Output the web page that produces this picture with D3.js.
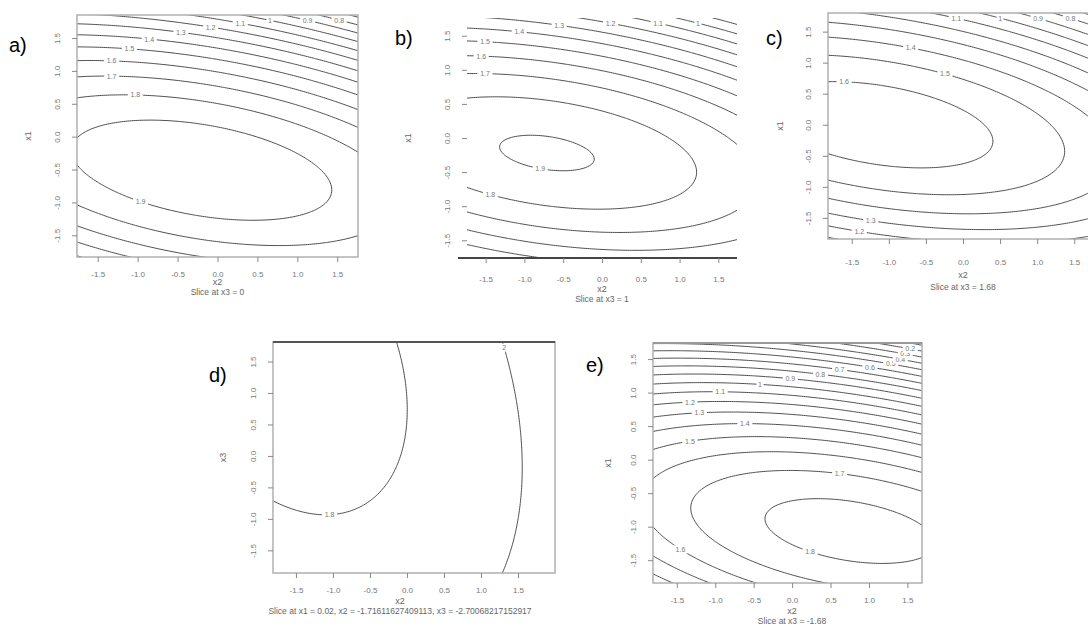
<!DOCTYPE html>
<html><head><meta charset="utf-8">
<script src="https://cdn.jsdelivr.net/npm/d3@7"></script>
<style>body{margin:0;background:#fff}text{font-family:"Liberation Sans",Arial,sans-serif}</style>
</head><body>
<svg id="c" width="1088" height="639"></svg>
<script>
// ---- shared ticks ----
const tickValues = [-1.5, -1.0, -0.5, 0.0, 0.5, 1.0, 1.5];
const tickLabels = ["-1.5", "-1.0", "-0.5", "0.0", "0.5", "1.0", "1.5"];

// ---- panel a (x2 horizontal, x1 vertical), slice at x3 = 0 ----
const aCenter = [-0.2, -0.51];
const aCoef = [0.218, 1.0, 0.368];          // x2^2, x1^2, x2*x1
const aLevels = [0.49, 1.11, 1.73, 2.35, 2.97, 3.59, 4.21, 4.83, 5.45, 6.07, 6.69, 7.31, 7.93];
const aLabels = ["1.9", "1.8", "1.7", "1.6", "1.5", "1.4", "1.3", "1.2", "1.1", "1", "0.9", "0.8", "0.7"];

// ---- panel b, slice at x3 = 1 ----
const bCenter = [-0.71, -0.22];
const bCoef = [0.1825, 1.0, 0.292];
const bLevels = [0.06, 0.6, 1.2, 1.8, 2.4, 3.0, 3.6, 4.2, 4.8, 5.4, 6.0];
const bLabels = ["1.9", "1.8", "1.7", "1.6", "1.5", "1.4", "1.3", "1.2", "1.1", "1", "0.9"];

// ---- panel c, slice at x3 = 1.68 ----
const cCenter = [-1.15, 0.0];
const cCoef = [0.2, 1.0, 0.34];
const cLevels = [0.413, 1.087, 1.76, 2.44, 3.11, 3.79, 4.46, 5.13, 5.81, 6.48, 7.16];
const cLabels = ["1.6", "1.5", "1.4", "1.3", "1.2", "1.1", "1", "0.9", "0.8", "0.7", "0.6"];

// ---- panel d (x2 horizontal, x3 vertical) ----
const dCenter = [-1.8, 1.8];
const dCoef = [2.3, 1.0, 1.18];
const dLevels = [6.35, 22.0];
const dLabels = ["1.8", "2"];

// ---- panel e, slice at x3 = -1.68 ----
const eCenter = [0.755, -1.065];
const eCoef = [0.19, 1.0, 0.33];
const eLevels = [0.2, 0.7, 1.2, 1.7, 2.2, 2.7, 3.2, 3.7, 4.2, 4.7, 5.2, 5.7, 6.2, 6.7, 7.2, 7.7, 8.2, 8.7];
const eLabels = ["1.8", "1.7", "1.6", "1.5", "1.4", "1.3", "1.2", "1.1", "1", "0.9", "0.8", "0.7", "0.6", "0.5", "0.4", "0.3", "0.2", "0.1"];

const svg = d3.select("#c");

function surface(center, coef) {
  return (x, y) => {
    const u = x - center[0], v = y - center[1];
    return coef[0] * u * u + coef[1] * v * v + coef[2] * u * v;
  };
}

function drawPanel(p) {
  const g = svg.append("g");
  const [L, T, R, B] = p.box;
  const xs = d3.scaleLinear().domain(p.xDom).range([L, R]);
  const ys = d3.scaleLinear().domain(p.yDom).range([B, T]);
  const f = surface(p.center, p.coef);

  const n = 160, m = 160;
  const padX = (p.xDom[1] - p.xDom[0]) * 0.06, padY = (p.yDom[1] - p.yDom[0]) * 0.06;
  const gx0 = p.xDom[0] - padX, gx1 = p.xDom[1] + padX;
  const gy0 = p.yDom[1] + padY, gy1 = p.yDom[0] - padY;
  const dx = (gx1 - gx0) / (n - 1), dy = (gy1 - gy0) / (m - 1);
  const values = new Float64Array(n * m);
  for (let j = 0; j < m; j++) for (let i = 0; i < n; i++)
    values[j * n + i] = f(gx0 + i * dx, gy0 + j * dy);
  const toPx = (gxp, gyp) => [xs(gx0 + (gxp - 0.5) * dx), ys(gy0 + (gyp - 0.5) * dy)];
  const contours = d3.contours().size([n, m]).thresholds(p.levels)(values);
  const proj = d3.geoTransform({ point(x, y) { const q = toPx(x, y); this.stream.point(q[0], q[1]); } });
  const path = d3.geoPath(proj);

  const cid = "clip" + p.id;
  svg.append("clipPath").attr("id", cid).append("rect")
    .attr("x", L).attr("y", T).attr("width", R - L).attr("height", B - T);
  const cg = g.append("g").attr("clip-path", `url(#${cid})`);

  cg.selectAll("path.ct").data(contours).join("path")
    .attr("class", "ct").attr("d", path)
    .attr("fill", "none").attr("stroke", "#3a3a3a").attr("stroke-width", 0.9);

  contours.forEach((c, k) => {
    const pts = [];
    c.coordinates.forEach(poly => poly.forEach(ring => ring.forEach(pt => {
      const q = toPx(pt[0], pt[1]);
      if (q[0] > L + 10 && q[0] < Math.min(R, p.visR || R) - 10 && q[1] > T + 5 && q[1] < B - 5) pts.push(q);
    })));
    if (!pts.length) return;
    const tx = p.labelX[k % p.labelX.length];
    let best = pts[0], bd = Infinity;
    pts.forEach(q => { const d = Math.abs(q[0] - tx) + (p.preferTop ? q[1] * 0.001 : 0); if (d < bd) { bd = d; best = q; } });
    const txt = p.labels[k];
    const w = txt.length * 4 + 3;
    cg.append("rect").attr("x", best[0] - w / 2).attr("y", best[1] - 4).attr("width", w).attr("height", 8).attr("fill", "#fff");
    cg.append("text").attr("x", best[0]).attr("y", best[1] + 2.5).attr("text-anchor", "middle")
      .attr("font-size", 7).attr("fill", "#777").text(txt);
  });

  if (p.boxed) {
    g.append("rect").attr("x", L).attr("y", T).attr("width", R - L).attr("height", B - T)
      .attr("fill", "none").attr("stroke", "#b0b0b0").attr("stroke-width", 1.5);
  }
  if (p.topLine) {
    g.append("line").attr("x1", L).attr("x2", R).attr("y1", T).attr("y2", T)
      .attr("stroke", p.topLine).attr("stroke-width", 2.2);
  }
  if (p.bottomLine) {
    g.append("line").attr("x1", p.bottomLine[0]).attr("x2", p.bottomLine[1]).attr("y1", B).attr("y2", B)
      .attr("stroke", "#444").attr("stroke-width", 2.2);
  }

  const fmt = v => tickLabels[tickValues.indexOf(v)];
  const ax = g.append("g").attr("transform", `translate(0,${B})`)
    .call(d3.axisBottom(xs).tickValues(tickValues).tickFormat(fmt).tickSize(5).tickPadding(p.tickPad || 9));
  ax.select(".domain").remove();
  ax.selectAll("line").attr("stroke", "#888");
  ax.selectAll("text").attr("font-size", 8).attr("fill", "#777").attr("font-family", "Liberation Sans, Arial");

  const ay = g.append("g").attr("transform", `translate(${L},0)`)
    .call(d3.axisLeft(ys).tickValues(tickValues).tickFormat(fmt).tickSize(5));
  ay.select(".domain").remove();
  ay.selectAll("line").attr("stroke", "#888");
  ay.selectAll("text").attr("font-size", 8).attr("fill", "#777").attr("font-family", "Liberation Sans, Arial")
    .attr("transform", "rotate(-90)").attr("x", 0).attr("y", -p.yLabOff).attr("dy", 0).attr("text-anchor", "middle");

  const midX = (L + R) / 2;
  g.append("text").attr("x", p.titleX || midX).attr("y", p.xTitleY).attr("text-anchor", "middle")
    .attr("font-size", 9).attr("fill", "#666").text(p.xTitle);
  g.append("text").attr("x", p.titleX || midX).attr("y", p.subY).attr("text-anchor", "middle")
    .attr("font-size", 8.5).attr("fill", "#666").text(p.sub);
  g.append("text").attr("transform", `translate(${p.yTitleX},${(T + B) / 2}) rotate(-90)`)
    .attr("text-anchor", "middle").attr("font-size", 9).attr("fill", "#666").text(p.yTitle);

  svg.append("text").attr("x", p.tag[0]).attr("y", p.tag[1]).attr("font-size", 20)
    .attr("fill", "#000").text(p.tagText);
}

drawPanel({ id: "a", box: [77, 15, 358, 257], xDom: [-1.76, 1.76], yDom: [-1.83, 1.85],
  center: aCenter, coef: aCoef, levels: aLevels, labels: aLabels, labelX: [140, 135, 112, 112, 130, 150, 180, 210, 240, 270, 300, 320, 340],
  boxed: true, xTitle: "x2", yTitle: "x1", sub: "Slice at x3 = 0", xTitleY: 285, subY: 295, yTitleX: 31, yLabOff: 17,
  tag: [9, 52], tagText: "a)" });

drawPanel({ id: "b", box: [467, 18, 737, 258], xDom: [-1.74, 1.74], yDom: [-1.76, 1.76], tickPad: 13,
  center: bCenter, coef: bCoef, levels: bLevels, labels: bLabels, labelX: [540, 490, 485, 482, 485, 520, 560, 600, 640, 680, 700],
  boxed: false, bottomLine: [458, 737], titleX: 602, xTitle: "x2", yTitle: "x1", sub: "Slice at x3 = 1", xTitleY: 292, subY: 302, yTitleX: 411, yLabOff: 17,
  tag: [395, 45], tagText: "b)" });

drawPanel({ id: "c", box: [828, 13, 1098, 239], xDom: [-1.82, 1.82], yDom: [-1.84, 1.8], visR: 1088, tickPad: 15,
  center: cCenter, coef: cCoef, levels: cLevels, labels: cLabels, labelX: [845, 945, 910, 870, 860, 900, 950, 990, 1020, 1050, 1070],
  boxed: true, titleX: 963, xTitle: "x2", yTitle: "x1", sub: "Slice at x3 = 1.68", xTitleY: 278, subY: 290, yTitleX: 783, yLabOff: 17,
  tag: [766, 45], tagText: "c)" });

drawPanel({ id: "d", box: [273, 342, 555, 573], xDom: [-1.81, 2.0], yDom: [-1.86, 1.81],
  center: dCenter, coef: dCoef, levels: dLevels, labels: dLabels, labelX: [330, 503],
  boxed: true, topLine: "#555", titleX: 400, xTitle: "x2", yTitle: "x3",
  sub: "Slice at x1 = 0.02, x2 = -1.71611627409113, x3 = -2.70068217152917", xTitleY: 604, subY: 614, yTitleX: 226, yLabOff: 17,
  tag: [209, 382], tagText: "d)" });

drawPanel({ id: "e", box: [653, 343, 922, 583], xDom: [-1.81, 1.69], yDom: [-1.84, 1.74],
  center: eCenter, coef: eCoef, levels: eLevels, labels: eLabels, labelX: [810, 840, 680, 690, 745, 700, 690, 720, 760, 790, 820, 840, 870, 890, 900, 905, 910, 912],
  boxed: true, topLine: "#999", titleX: 792, xTitle: "x2", yTitle: "x1", sub: "Slice at x3 = -1.68", xTitleY: 614, subY: 624, yTitleX: 611, yLabOff: 17,
  tag: [586, 372], tagText: "e)" });
</script>
</body></html>
